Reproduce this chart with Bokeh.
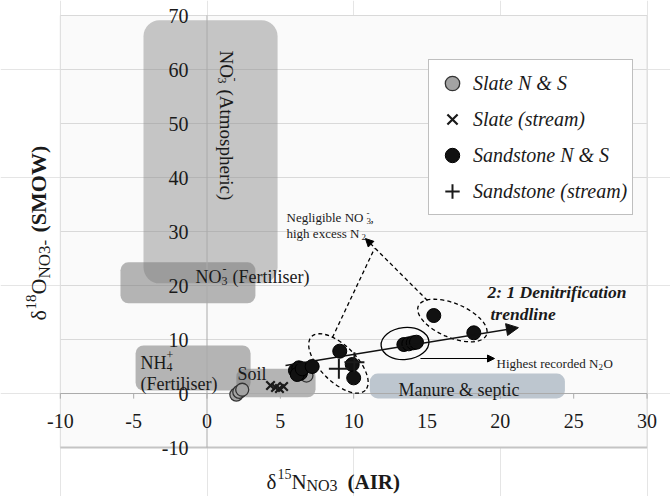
import math
from bokeh.plotting import figure
from bokeh.models import Range1d, Label, Legend, LegendItem, Arrow, NormalHead
from bokeh.core.properties import value
from bokeh.embed import file_html
from bokeh.resources import INLINE

FONT = "Liberation Serif"
W, H = 670, 496

# ---------------- data ----------------
slate_ns_x = [2.0, 2.2, 2.4, 6.78]
slate_ns_y = [-0.2, 0.3, 0.7, 3.33]
slate_stream_x = [4.33, 4.67, 4.94, 5.22]
slate_stream_y = [1.48, 1.11, 0.93, 1.30]
sand_ns_x = [6.03, 6.26, 6.37, 6.15, 6.49, 7.17, 9.05, 9.9, 10.0,
             13.42, 13.76, 14.06, 14.28, 15.46, 18.19]
sand_ns_y = [4.26, 4.76, 3.76, 3.52, 4.57, 5.0, 7.84, 5.37, 2.9,
             9.07, 9.2, 9.39, 9.5, 14.44, 11.24]
sand_stream_x = [8.99, 10.05]
sand_stream_y = [4.57, 5.8]

x_ticks = [-10, -5, 0, 5, 10, 15, 20, 25, 30]
x_tick_labels = ["-10", "-5", "0", "5", "10", "15", "20", "25", "30"]
y_ticks = [-10, 0, 10, 20, 30, 40, 50, 60, 70]
y_tick_labels = ["-10", "0", "10", "20", "30", "40", "50", "60", "70"]

# source regions
region_names = ["Atmospheric", "NO3 Fertiliser", "NH4 Fertiliser", "Soil", "Manure & septic"]
region_left = [-4.33, -5.9, -4.87, 2.0, 11.1]
region_right = [4.81, 3.3, 2.97, 7.4, 24.4]
region_bottom = [20.4, 16.7, 0.56, -0.7, -0.9]
region_top = [69.1, 24.3, 8.9, 4.6, 3.7]
region_colors = ["#909090", "#7a7a7a", "#7a7a7a", "#7a7a7a", "#8a9bab"]

# trendline (2:1 denitrification)
trend_x = [5.35, 21.23]
trend_y = [5.19, 12.2]

# ellipses grouping samples
ell_x = [16.73, 8.96]
ell_y = [13.52, 5.56]
solid_ell_x = [13.5]
solid_ell_y = [9.26]

# "negligible NO3-" pointer lines
lineA_x = [8.55, 11.42]
lineA_y = [10.37, 26.85]
lineB = (15.03, 17.22, 10.8, 28.7)
n2o_arrow = (14.55, 6.48, 19.6, 6.48)

# ---------------- figure ----------------
p = figure(width=W, height=H,
           x_range=Range1d(-14.08, 31.60), y_range=Range1d(-19.07, 72.78),
           output_backend="svg", toolbar_location=None,
           x_axis_location=None, y_axis_location=None, min_border=0,
           outline_line_color=None, background_fill_color="white",
           border_fill_color="white")

xmin, xmax = x_ticks[0], x_ticks[-1]
ymin, ymax = y_ticks[0], y_ticks[-1]

# plot area background
p.quad(left=[xmin], right=[xmax], bottom=[ymin], top=[ymax],
       fill_color="#fafafa", line_color=None)
# horizontal gridlines
p.segment(x0=[xmin] * len(y_ticks), x1=[xmax] * len(y_ticks), y0=y_ticks, y1=y_ticks,
          line_color="#d9d9d9", line_width=1)
# side borders
p.segment(x0=[xmin, xmax], x1=[xmin, xmax], y0=[ymin, ymin], y1=[ymax, ymax],
          line_color="#dcdcdc", line_width=1)
p.segment(x0=[xmin], x1=[xmax], y0=[ymin], y1=[ymin], line_color="#c4c4c4", line_width=2)

# source regions (rounded boxes)
p.quad(left=region_left[:1], right=region_right[:1], bottom=region_bottom[:1], top=region_top[:1],
       fill_color=region_colors[:1], fill_alpha=0.5, line_color=None, border_radius=16)
p.quad(left=region_left[1:], right=region_right[1:], bottom=region_bottom[1:], top=region_top[1:],
       fill_color=region_colors[1:], fill_alpha=0.55, line_color=None, border_radius=8)

# axes crossing at zero
p.segment(x0=[0], x1=[0], y0=[ymin], y1=[ymax], line_color="#aaaaaa", line_width=1)
p.segment(x0=[xmin], x1=[xmax], y0=[0], y1=[0], line_color="#aaaaaa", line_width=1)
p.segment(x0=x_ticks, x1=x_ticks, y0=[0] * len(x_ticks), y1=[-0.95] * len(x_ticks),
          line_color="#aaaaaa", line_width=1)

# tick labels
p.text(x=x_ticks, y=[-5.0] * len(x_ticks), text=x_tick_labels, text_align="center",
       text_baseline="middle", text_font=value(FONT), text_font_size="20px",
       text_color="#1a1a1a")
p.text(x=[-1.26] * len(y_ticks), y=y_ticks, text=y_tick_labels, text_align="right",
       text_baseline="middle", text_font=value(FONT), text_font_size="20px",
       text_color="#1a1a1a")

# ellipses
p.ellipse(x=ell_x, y=ell_y, width=[74, 76], height=[34, 36], angle=[-0.40, -0.785],
          width_units="screen", height_units="screen", fill_color=None,
          line_color="black", line_dash="4 3", line_width=1.3)
p.ellipse(x=solid_ell_x, y=solid_ell_y, width=[48], height=[32], angle=[0.1],
          width_units="screen", height_units="screen", fill_color=None,
          line_color="black", line_width=1.3)
p.line(lineA_x, lineA_y, line_color="black", line_dash="4 3", line_width=1.3)

# points
r_slate = p.scatter(slate_ns_x, slate_ns_y, marker="circle", size=13,
                    fill_color="#a3a3a3", line_color="#333333", line_width=1.3)
r_slate_s = p.scatter(slate_stream_x, slate_stream_y, marker="x", size=12,
                      line_color="#1a1a1a", line_width=2.2)
r_sand = p.scatter(sand_ns_x, sand_ns_y, marker="circle", size=14,
                   fill_color="#111111", line_color="#000000", line_width=1)
r_sand_s = p.scatter(sand_stream_x, sand_stream_y, marker="cross", size=20,
                     line_color="#1a1a1a", line_width=2)

# arrows
p.add_layout(Arrow(x_start=trend_x[0], y_start=trend_y[0], x_end=trend_x[1], y_end=trend_y[1],
                   line_color="#111111", line_width=1.3,
                   end=NormalHead(size=12, fill_color="#111111", line_color="#111111")))
p.add_layout(Arrow(x_start=lineB[0], y_start=lineB[1], x_end=lineB[2], y_end=lineB[3],
                   line_color="black", line_width=1.3, line_dash="4 3",
                   end=NormalHead(size=8, fill_color="black", line_color="black")))
p.add_layout(Arrow(x_start=n2o_arrow[0], y_start=n2o_arrow[1], x_end=n2o_arrow[2], y_end=n2o_arrow[3],
                   line_color="black", line_width=1.1,
                   end=NormalHead(size=7, fill_color="black", line_color="black")))


def lab(txt, X, Y, size, style="normal", angle=0.0, align="left", baseline="alphabetic",
        color="#1a1a1a"):
    p.add_layout(Label(x=X, y=H - Y, x_units="screen", y_units="screen", text=txt,
                       text_font=FONT, text_font_size=f"{size}px", text_font_style=style,
                       angle=angle, text_align=align, text_baseline=baseline,
                       text_color=color))


# region labels
A = -math.pi / 2
lab("NO", 226, 50, 19, angle=A)
lab("3", 221, 77, 12, angle=A)
lab("-", 234, 77, 12, angle=A)
lab("(Atmospheric)", 226, 89, 19, angle=A)

lab("NO", 195, 276, 18)
lab("3", 221, 280, 12)
lab("-", 222, 268, 12)
lab("(Fertiliser)", 232, 276, 18)

lab("NH", 140, 362, 18)
lab("4", 166, 366, 12)
lab("+", 166, 354, 12)
lab("(Fertiliser)", 140, 383, 18)

lab("Soil", 237, 373, 18)
lab("Manure & septic", 398, 389, 18)

# annotations
lab("Negligible NO", 286, 217, 13)
lab("3", 366, 220, 9)
lab("-", 366, 212, 9)
lab(",", 370, 217, 13)
lab("high excess N", 286, 233, 13)
lab("2", 361, 236, 9)

lab("2: 1 Denitrification", 487, 291, 17.5, style="bold italic")
lab("trendline", 490, 313, 17.5, style="bold italic")

lab("Highest recorded N", 496, 363, 13)
lab("2", 598, 366, 9)
lab("O", 603, 363, 13)

# axis titles
lab("\u03b4", 266, 481, 21)
lab("15", 277, 473, 14)
lab("N", 291, 481, 21)
lab("NO3", 306, 485, 16)
lab("(AIR)", 347, 481, 21, style="bold")

B = math.pi / 2
lab("\u03b4", 38, 320, 22, angle=B)
lab("18", 30, 309, 15, angle=B)
lab("O", 38, 294, 22, angle=B)
lab("NO3-", 44, 278, 17, angle=B)
lab("(SMOW)", 38, 232, 22, style="bold", angle=B)

# legend
legend = Legend(items=[
    LegendItem(label="Slate N & S", renderers=[r_slate]),
    LegendItem(label="Slate (stream)", renderers=[r_slate_s]),
    LegendItem(label="Sandstone N & S", renderers=[r_sand]),
    LegendItem(label="Sandstone (stream)", renderers=[r_sand_s]),
], location=(428, 281), margin=0, padding=5, spacing=0,
    glyph_width=36, glyph_height=36, label_height=36, label_standoff=3,
    label_text_font=FONT, label_text_font_style="italic", label_text_font_size="20px",
    label_text_color="#1a1a1a", border_line_color="#808080", border_line_width=1,
    background_fill_color="white", background_fill_alpha=1.0)
p.add_layout(legend)

open("out.html", "w").write(file_html(p, INLINE))
